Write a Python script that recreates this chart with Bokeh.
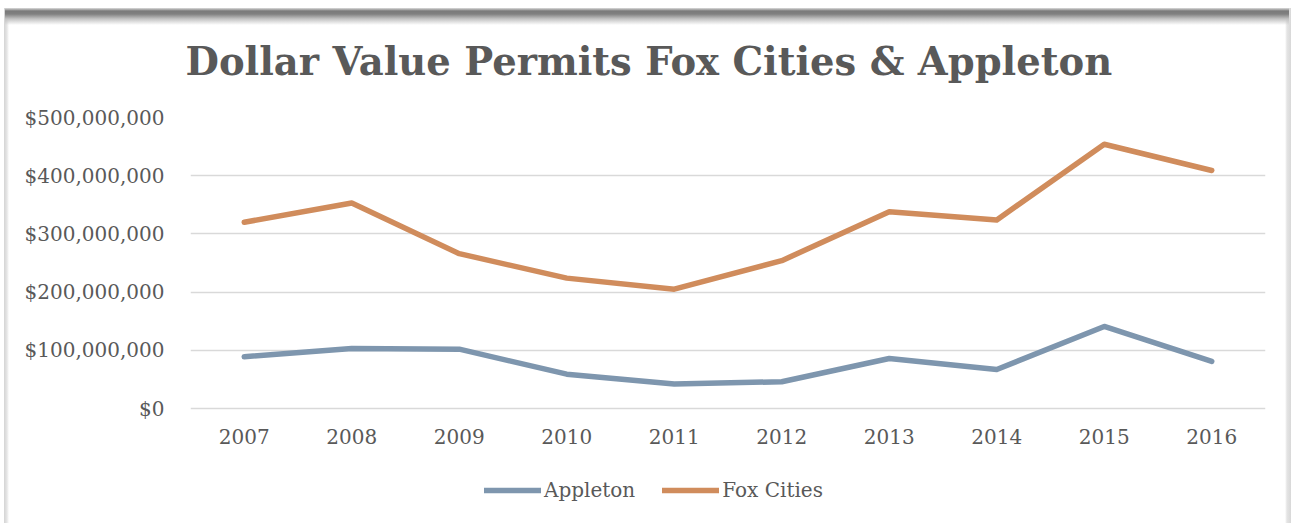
from bokeh.plotting import figure
from bokeh.models import (FactorRange, Range1d, FixedTicker, NumeralTickFormatter,
                          Legend, LegendItem)
from bokeh.embed import file_html
from bokeh.resources import INLINE

years = ["2007", "2008", "2009", "2010", "2011", "2012", "2013", "2014", "2015", "2016"]
appleton = [89e6, 103e6, 102e6, 59e6, 42e6, 46e6, 86e6, 67e6, 141e6, 81e6]
fox_cities = [320e6, 353e6, 266e6, 224e6, 205e6, 254e6, 338e6, 324e6, 454e6, 409e6]
y_ticks = [0, 100e6, 200e6, 300e6, 400e6, 500e6]

TEXT = "#595959"
FONT = "DejaVu Serif"

# frame extends below the zero line to leave room for the category labels and legend
Y_MAX = 500e6
Y_MIN = -Y_MAX * 115 / 291

p = figure(frame_width=1075, frame_height=406,
           x_range=FactorRange(*years), y_range=Range1d(Y_MIN, Y_MAX),
           output_backend="svg", toolbar_location=None,
           min_border_left=190, min_border_right=28,
           min_border_top=117, min_border_bottom=0)

p.border_fill_color = None
p.background_fill_color = "white"
p.outline_line_color = None
p.styles = {
    "background": (
        "linear-gradient(to bottom, rgba(255,255,255,0) 0px, rgba(255,255,255,0) 8px, #dcdcdc 8px, #7a7a7a 11px, "
        "#808080 14px, #c4c4c4 19px, rgba(255,255,255,0) 25px) 5px 0px / 1284px 30px no-repeat, "
        "linear-gradient(to right, #ffffff 0px, #ffffff 4px, #d4d4d4 4px, #e6e6e6 7px, #ffffff 9px) 0px 8px / 12px 100% no-repeat, "
        "linear-gradient(to left, #ffffff 0px, #ffffff 2px, #d8d8d8 2px, #e4e4e4 6px, #ffffff 8px) 1281px 8px / 12px 100% no-repeat, "
        "#ffffff"
    ),
}

p.title.text = "Dollar Value Permits Fox Cities & Appleton"
p.title.text_font = FONT
p.title.text_font_style = "bold"
p.title.text_font_size = "38.5px"
p.title.text_color = TEXT
p.title.align = "left"
p.title.offset = -5
p.title.standoff = 67

r1 = p.line(years, appleton, line_color="#7E96AE", line_width=5.5,
            line_cap="round", line_join="round")
r2 = p.line(years, fox_cities, line_color="#D08C5C", line_width=5.5,
            line_cap="round", line_join="round")

p.xgrid.grid_line_color = None
p.ygrid.grid_line_color = "#D9D9D9"
p.ygrid.grid_line_width = 1.5
p.ygrid.ticker = FixedTicker(ticks=y_ticks)

p.yaxis.ticker = FixedTicker(ticks=y_ticks)
p.yaxis.formatter = NumeralTickFormatter(format="$0,0")
p.xaxis.fixed_location = 0
for ax in (p.xaxis[0], p.yaxis[0]):
    ax.axis_line_color = None
    ax.major_tick_line_color = None
    ax.minor_tick_line_color = None
    ax.major_tick_out = 0
    ax.major_tick_in = 0
    ax.minor_tick_out = 0
    ax.major_label_text_font = FONT
    ax.major_label_text_font_size = "20px"
    ax.major_label_text_color = TEXT
p.yaxis.major_label_standoff = 26
p.xaxis.major_label_standoff = 20

legend = Legend(items=[LegendItem(label="Appleton", renderers=[r1]),
                       LegendItem(label="Fox Cities", renderers=[r2])],
                orientation="horizontal", location=(294, 21),
                padding=0, margin=0, border_line_color=None,
                background_fill_alpha=0, glyph_width=57, glyph_height=20,
                label_standoff=3, spacing=27,
                label_text_font=FONT, label_text_font_size="20px",
                label_text_color=TEXT)
p.add_layout(legend)

open("out.html", "w").write(file_html(p, INLINE))
